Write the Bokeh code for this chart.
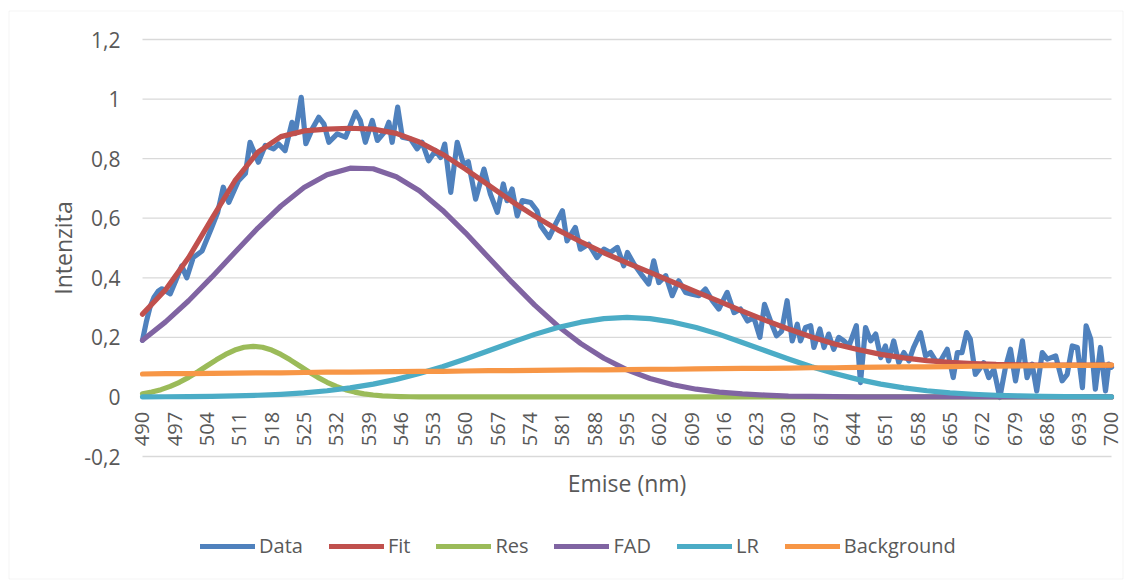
import math
from bokeh.plotting import figure
from bokeh.models import (Range1d, FixedTicker, CustomJSTickFormatter, Legend,
                          LegendItem, Label, LinearAxis, BoxAnnotation)
from bokeh.embed import file_html
from bokeh.resources import INLINE

# ---------------- data ----------------
x_ticks = [490, 497, 504, 511, 518, 525, 532, 539, 546, 553, 560, 567, 574, 581,
           588, 595, 602, 609, 616, 623, 630, 637, 644, 651, 658, 665, 672, 679,
           686, 693, 700]
y_ticks = [-0.2, 0.0, 0.2, 0.4, 0.6, 0.8, 1.0, 1.2]

# measured spectrum (nm, intensity)
data_nm = [490.0, 490.8, 491.6, 492.5, 493.4, 494.2, 496.0, 497.2, 498.5, 499.6,
           501.0, 502.9, 505.0, 506.3, 507.5, 508.7, 510.8, 512.3, 513.3, 515.1,
           516.6, 518.4, 519.5, 520.9, 522.4, 523.1, 524.4, 525.4, 526.8, 528.2,
           529.3, 530.4, 532.2, 534.0, 536.2, 537.2, 538.3, 539.8, 540.9, 542.7,
           543.4, 544.1, 545.3, 546.3, 548.1, 549.5, 550.6, 552.0, 553.5, 554.6,
           555.5, 556.8, 558.2, 559.6, 560.6, 562.2, 564.0, 565.4, 566.9, 568.2,
           569.0, 570.1, 571.2, 572.3, 574.1, 575.5, 576.3, 578.1, 579.5, 581.0,
           582.0, 583.8, 584.9, 586.7, 588.5, 590.0, 591.4, 592.9, 594.3, 595.1,
           596.5, 598.3, 599.7, 600.8, 601.9, 603.4, 604.8, 606.2, 607.7, 609.1,
           610.6, 612.0, 613.5, 614.9, 616.7, 618.2, 619.6, 621.1, 622.5, 623.8,
           624.8, 626.1, 627.4, 628.5, 629.7, 630.8, 631.9, 632.6, 633.7, 634.8,
           635.5, 636.8, 637.7, 638.7, 639.8, 640.9, 642.0, 643.1, 644.7, 645.6,
           646.7, 647.8, 648.9, 650.0, 651.0, 651.7, 652.8, 653.9, 655.0, 656.1,
           657.1, 658.6, 659.7, 660.8, 661.9, 662.9, 664.4, 665.7, 666.6, 667.6,
           668.6, 669.4, 670.5, 671.6, 672.3, 673.4, 674.5, 675.8, 677.0, 678.1,
           679.2, 680.7, 681.7, 682.8, 683.8, 685.0, 686.1, 687.9, 689.3, 690.4,
           691.5, 692.6, 693.7, 694.5, 695.5, 696.5, 697.6, 698.7, 699.4, 700.0]
data_val = [0.190, 0.250, 0.300, 0.335, 0.355, 0.363, 0.346, 0.390, 0.440, 0.400,
            0.468, 0.490, 0.569, 0.620, 0.704, 0.653, 0.726, 0.750, 0.855, 0.788,
            0.844, 0.833, 0.849, 0.827, 0.922, 0.884, 1.006, 0.850, 0.900, 0.939,
            0.917, 0.855, 0.883, 0.872, 0.956, 0.928, 0.855, 0.928, 0.861, 0.894,
            0.922, 0.855, 0.973, 0.872, 0.866, 0.833, 0.855, 0.793, 0.827, 0.804,
            0.849, 0.687, 0.855, 0.780, 0.790, 0.664, 0.765, 0.681, 0.620, 0.715,
            0.659, 0.698, 0.608, 0.659, 0.653, 0.625, 0.575, 0.535, 0.580, 0.625,
            0.524, 0.569, 0.496, 0.513, 0.468, 0.496, 0.485, 0.502, 0.440, 0.485,
            0.446, 0.407, 0.379, 0.457, 0.384, 0.407, 0.340, 0.390, 0.351, 0.345,
            0.340, 0.362, 0.323, 0.295, 0.351, 0.283, 0.295, 0.255, 0.267, 0.200,
            0.311, 0.255, 0.205, 0.220, 0.323, 0.188, 0.244, 0.188, 0.233, 0.239,
            0.166, 0.228, 0.166, 0.211, 0.160, 0.200, 0.188, 0.171, 0.239, 0.048,
            0.233, 0.188, 0.211, 0.132, 0.171, 0.121, 0.188, 0.115, 0.149, 0.121,
            0.166, 0.216, 0.138, 0.149, 0.121, 0.120, 0.160, 0.065, 0.149, 0.149,
            0.216, 0.194, 0.076, 0.098, 0.115, 0.065, 0.093, -0.002, 0.098, 0.160,
            0.054, 0.188, 0.065, 0.110, 0.020, 0.149, 0.127, 0.138, 0.054, 0.076,
            0.171, 0.166, 0.031, 0.239, 0.194, 0.026, 0.166, 0.020, 0.110, 0.100]

# fitted curves sampled every 5 nm
fit_nm = list(range(490, 701, 5))
fit_val = [0.278, 0.360, 0.468, 0.598, 0.725, 0.822, 0.874, 0.893, 0.899, 0.902,
           0.899, 0.885, 0.856, 0.815, 0.765, 0.711, 0.657, 0.607, 0.561, 0.521,
           0.484, 0.450, 0.418, 0.385, 0.353, 0.321, 0.288, 0.257, 0.228, 0.201,
           0.178, 0.159, 0.143, 0.131, 0.122, 0.116, 0.112, 0.109, 0.108, 0.107,
           0.107, 0.107, 0.107]
fad_val = [0.190, 0.252, 0.323, 0.402, 0.485, 0.567, 0.641, 0.703, 0.746, 0.768,
           0.766, 0.739, 0.692, 0.627, 0.551, 0.468, 0.386, 0.308, 0.238, 0.179,
           0.130, 0.091, 0.062, 0.041, 0.026, 0.016, 0.010, 0.006, 0.003, 0.002,
           0.001, 0.0005, 0.0002, 0.0001, 0, 0, 0, 0, 0, 0,
           0, 0, 0]
lr_val = [0.0003, 0.0006, 0.0011, 0.0020, 0.0034, 0.0056, 0.0089, 0.0138, 0.0208, 0.0303,
          0.0429, 0.0589, 0.0785, 0.1015, 0.1274, 0.155, 0.183, 0.210, 0.233, 0.251,
          0.263, 0.267, 0.263, 0.251, 0.233, 0.210, 0.183, 0.155, 0.1274, 0.1015,
          0.0785, 0.0589, 0.0429, 0.0303, 0.0208, 0.0138, 0.0089, 0.0056, 0.0034, 0.0020,
          0.0011, 0.0006, 0.0003]
bg_val = [0.077, 0.078, 0.078, 0.079, 0.080, 0.081, 0.081, 0.082, 0.083, 0.083,
          0.084, 0.085, 0.086, 0.086, 0.087, 0.088, 0.088, 0.089, 0.090, 0.091,
          0.091, 0.092, 0.093, 0.093, 0.094, 0.095, 0.096, 0.096, 0.097, 0.098,
          0.098, 0.099, 0.100, 0.101, 0.101, 0.102, 0.103, 0.103, 0.104, 0.105,
          0.106, 0.106, 0.107]

# narrow "Res" band, sampled more finely (2 nm) where it is non-zero
res_nm = [490, 492, 494, 496, 498, 500, 502, 504, 506, 508, 510, 512, 514, 516,
          518, 520, 522, 524, 526, 528, 530, 532, 534, 536, 538, 540, 542, 544,
          546, 548, 550, 560, 700]
res_val = [0.0104, 0.0162, 0.0244, 0.0353, 0.0491, 0.0657, 0.0845, 0.1046, 0.1246,
           0.1427, 0.1573, 0.1667, 0.1700, 0.1667, 0.1573, 0.1427, 0.1246, 0.1046,
           0.0845, 0.0657, 0.0491, 0.0353, 0.0244, 0.0162, 0.0104, 0.0064, 0.0038,
           0.0022, 0.0012, 0.0006, 0.0003, 0, 0]

series_names = ["Data", "Fit", "Res", "FAD", "LR", "Background"]
series_colors = ["#4F81BD", "#C0504D", "#9BBB59", "#8064A2", "#4BACC6", "#F79646"]

FONT = "Open Sans"
TXT = "#595959"
LW = 5.2

# ---------------- layout geometry (pixels) ----------------
W, H = 1130, 580
PL, PR, PT, PB = 142, 1111, 39, 456          # plot area edges in the picture
xs = (PR - PL) / (x_ticks[-1] - x_ticks[0])     # px per nm
ys = (PB - PT) / (y_ticks[-1] - y_ticks[0])     # px per unit


def sx2x(px):
    return x_ticks[0] + (px - PL) / xs


def sy2y(py):
    return y_ticks[-1] - (py - PT) / ys


# the frame covers the whole canvas; axes are pinned inside it
p = figure(width=W, height=H, output_backend="svg", toolbar_location=None,
           x_range=Range1d(sx2x(0), sx2x(W)), y_range=Range1d(sy2y(H), sy2y(0)),
           x_axis_location=None, y_axis_location=None,
           min_border=0, min_border_left=0, min_border_right=0,
           min_border_top=0, min_border_bottom=0)
p.outline_line_color = None
p.background_fill_color = "white"
p.border_fill_color = "white"
p.xgrid.grid_line_color = None
p.ygrid.grid_line_color = None

# chart-area border
p.add_layout(BoxAnnotation(left=sx2x(8.5), right=sx2x(1122.5), top=sy2y(10.5), bottom=sy2y(578.5),
                           fill_alpha=0, line_color="#D9D9D9", line_width=1))

# horizontal gridlines spanning the category range only
p.segment(x0=x_ticks[0], x1=x_ticks[-1], y0=y_ticks, y1=y_ticks,
          line_color="#D9D9D9", line_width=1.3)

# y axis pinned at the first category
yaxis = LinearAxis(fixed_location=x_ticks[0], ticker=FixedTicker(ticks=y_ticks))
yaxis.formatter = CustomJSTickFormatter(
    code="return (Math.round(tick*10)/10).toString().replace('.', ',');")
yaxis.axis_line_color = None
yaxis.major_tick_line_color = None
yaxis.minor_tick_line_color = None
yaxis.major_tick_out = 0
yaxis.major_tick_in = 0
yaxis.major_label_standoff = 22
yaxis.major_label_text_font = FONT
yaxis.major_label_text_font_size = "21px"
yaxis.major_label_text_color = TXT
p.add_layout(yaxis, "left")

# x axis pinned at y = 0
xaxis = LinearAxis(fixed_location=0, ticker=FixedTicker(ticks=x_ticks))
xaxis.axis_line_color = None
xaxis.major_tick_line_color = None
xaxis.minor_tick_line_color = None
xaxis.major_tick_out = 0
xaxis.major_tick_in = 0
xaxis.major_label_orientation = math.pi / 2
xaxis.major_label_standoff = 15
xaxis.major_label_text_font = FONT
xaxis.major_label_text_font_size = "20px"
xaxis.major_label_text_color = TXT
p.add_layout(xaxis, "below")

# axis titles
p.add_layout(Label(x=sx2x(62), y=sy2y((PT + PB) / 2), text="Intenzita", angle=math.pi / 2,
                   text_align="center", text_baseline="middle", text_font=FONT,
                   text_font_size="23px", text_color=TXT))
p.add_layout(Label(x=sx2x((PL + PR) / 2), y=sy2y(482), text="Emise (nm)",
                   text_align="center", text_baseline="middle", text_font=FONT,
                   text_font_size="23px", text_color=TXT))

# ---------------- series ----------------
renderers = []
renderers.append(p.line(data_nm, data_val, line_color=series_colors[0], line_width=LW,
                        line_join="round", line_cap="round"))
renderers.append(p.line(fit_nm, fit_val, line_color=series_colors[1], line_width=LW,
                        line_join="round", line_cap="round"))
renderers.append(p.line(res_nm, res_val, line_color=series_colors[2], line_width=LW,
                        line_join="round", line_cap="round"))
for vals, col in zip([fad_val, lr_val, bg_val], series_colors[3:]):
    renderers.append(p.line(fit_nm, vals, line_color=col, line_width=LW,
                            line_join="round", line_cap="round"))

legend = Legend(items=[LegendItem(label=n, renderers=[r]) for n, r in zip(series_names, renderers)],
                orientation="horizontal", location=(200, 21),
                glyph_width=55, glyph_height=20, label_height=24, label_standoff=4,
                spacing=26, padding=0, margin=0,
                label_text_font=FONT, label_text_font_size="20px", label_text_color=TXT,
                border_line_color=None, background_fill_alpha=0)
p.add_layout(legend, "center")

open("out.html", "w").write(file_html(p, INLINE))
